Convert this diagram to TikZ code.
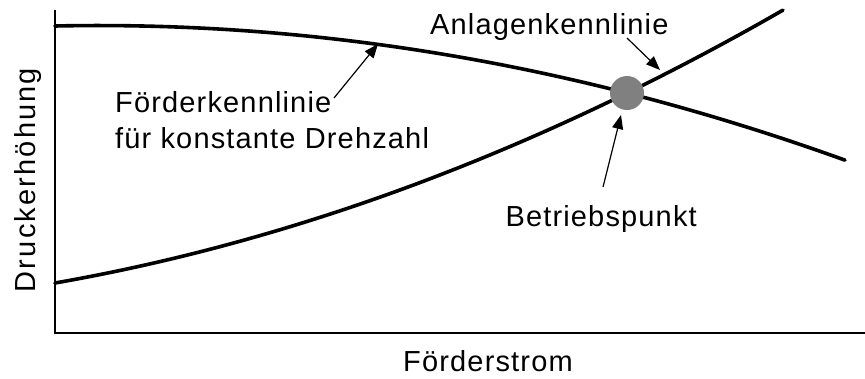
\documentclass[tikz,border=0pt]{standalone}
\usepackage{fontspec}
\setmainfont{Liberation Sans}
\newfontfamily\lblfont[LetterSpace=4]{Liberation Sans}
\newfontfamily\widefont[LetterSpace=7.5]{Liberation Sans}
\usepackage{tikz}
\usetikzlibrary{arrows.meta}
\usetikzlibrary{calc}

\tikzset{
  curve/.style={line width=3.6pt,line cap=round},
  axis/.style={line width=2.5pt,line join=miter},
  pointer/.style={line width=1.2pt,-{Triangle[length=14pt,width=11pt]}},
  lbl/.style={font=\lblfont\fontsize{29}{36}\selectfont,inner sep=0pt}
}

\begin{document}
\begin{tikzpicture}[x=1pt,y=-1pt]
\useasboundingbox (0,0) rectangle (865,378);
\draw[axis] (55,10) -- (55,333) -- (865,333);
\draw[curve] plot[domain=0:7.9,samples=80] ({55+100*\x},{26-2.106*\x+2.416*\x*\x});
\draw[curve] plot[domain=0:7.28,samples=80] ({55+100*\x},{283-17.5*\x-2.745*\x*\x});
\draw (627,93) node (bp) [circle,fill=gray,minimum size=34pt,inner sep=0pt] {};
\draw (115,148) node (pumplbl) [lbl,anchor=base west,align=left] {Förderkennlinie\\für konstante Drehzahl};
\draw (430,34) node (syslbl) [lbl,anchor=base west] {Anlagenkennlinie};
\draw (697,226) node (bplbl) [lbl,anchor=base east] {Betriebspunkt};
\draw (488,371) node (xlbl) [lbl,anchor=base] {Förderstrom};
\draw (35,180) node (ylbl) [lbl,font=\widefont\fontsize{29}{36}\selectfont,anchor=base,rotate=90] {Druckerhöhung};
\coordinate (pumptail) at (334,98);
\coordinate (pumptip) at (378,44);
\coordinate (systail) at (627,38);
\coordinate (systip) at (660,70);
\coordinate (bptail) at (603,187);
\coordinate (bptip) at (621,115);
\draw[pointer] (pumptail) -- (pumptip);
\draw[pointer] (systail) -- (systip);
\draw[pointer] (bptail) -- (bptip);
\end{tikzpicture}
\end{document}
